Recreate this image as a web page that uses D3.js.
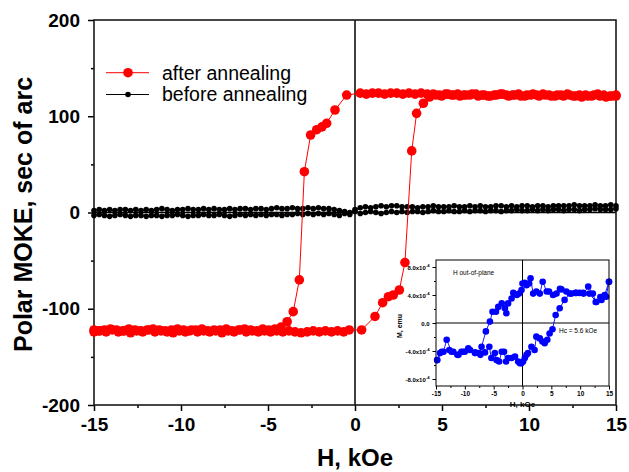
<!DOCTYPE html>
<html>
<head>
<meta charset="utf-8">
<script src="https://cdn.jsdelivr.net/npm/d3@7"></script>
<style>
  body { margin: 0; background: #fff; }
  svg { display: block; }
  text { font-family: Arial, "Liberation Sans", sans-serif; fill: #000; }
</style>
</head>
<body>
<svg id="chart" width="629" height="472"></svg>
<script>
// ---- Polar MOKE loops (sec of arc) vs applied field H (kOe) ----

// Field points of the "before annealing" sweeps
const fieldBefore = [
  -15.0,-14.7,-14.4,-14.1,-13.8,-13.5,-13.2,-12.9,-12.6,-12.3,
  -12.0,-11.7,-11.4,-11.1,-10.8,-10.5,-10.2,-9.9,-9.6,-9.3,
  -9.0,-8.7,-8.4,-8.1,-7.8,-7.5,-7.2,-6.9,-6.6,-6.3,
  -6.0,-5.7,-5.4,-5.1,-4.8,-4.5,-4.2,-3.9,-3.6,-3.3,
  -3.0,-2.7,-2.4,-2.1,-1.8,-1.5,-1.2,-0.9,-0.6,-0.3,
  0.0,0.3,0.6,0.9,1.2,1.5,1.8,2.1,2.4,2.7,
  3.0,3.3,3.6,3.9,4.2,4.5,4.8,5.1,5.4,5.7,
  6.0,6.3,6.6,6.9,7.2,7.5,7.8,8.1,8.4,8.7,
  9.0,9.3,9.6,9.9,10.2,10.5,10.8,11.1,11.4,11.7,
  12.0,12.3,12.6,12.9,13.2,13.5,13.8,14.1,14.4,14.7,
  15.0
];
// Decreasing-field sweep, before annealing
const beforeDown = [
  2,3,2,3,2,3,3,2,3,2,
  3,2,3,4,3,2,3,3,4,3,
  3,4,3,4,3,3,4,3,4,4,
  3,4,4,3,4,5,4,4,5,4,
  4,5,4,5,4,4,3,2,1,0,
  3,5,6,5,6,7,6,7,7,6,
  6,6,5,6,6,7,6,6,6,7,
  6,6,7,6,7,6,6,7,7,6,
  7,6,7,7,6,7,7,6,7,7,
  7,7,8,7,7,7,8,7,7,8,
  7
];
// Increasing-field sweep, before annealing
const beforeUp = [
  -3,-2,-3,-4,-3,-2,-3,-4,-3,-3,
  -4,-3,-3,-4,-3,-3,-2,-3,-4,-3,
  -3,-2,-3,-3,-2,-3,-4,-3,-2,-3,
  -2,-3,-2,-3,-2,-2,-3,-2,-2,-1,
  -2,-1,-2,-1,-2,-1,-2,-3,-1,-2,
  1,-1,0,1,0,-1,0,1,0,1,
  0,1,1,0,1,2,1,1,2,1,
  1,2,1,2,2,1,2,2,1,2,
  2,3,2,2,3,2,3,2,3,3,
  2,3,3,2,3,3,4,3,3,3,
  4
];

// After annealing: [H (kOe), rotation (sec of arc)], decreasing field
const afterDown = [
  [15.0,122],[14.65,121],[14.3,122],[13.95,123],[13.6,121],[13.25,122],[12.9,122],[12.55,121],
  [12.2,123],[11.85,122],[11.5,121],[11.15,122],[10.8,123],[10.45,122],[10.1,122],[9.75,121],
  [9.4,123],[9.05,122],[8.7,122],[8.35,123],[8.0,122],[7.65,121],[7.3,122],[6.95,123],
  [6.6,122],[6.25,122],[5.9,123],[5.55,122],[5.2,123],[4.85,122],[4.5,123],[4.15,123],
  [3.8,124],[3.45,123],[3.1,124],[2.75,123],[2.4,124],[2.05,124],[1.7,123],[1.35,124],
  [1.0,124],[0.65,123],[0.3,124],[-0.48,122],[-1.15,106.5],[-1.63,92.7],[-1.9,89],
  [-2.2,86],[-2.55,80.5],[-2.91,42.4],[-3.2,-70],[-3.55,-103],[-3.9,-113.5],[-4.25,-119],
  [-4.6,-121],[-4.95,-122],[-5.3,-121],[-5.65,-123],[-6.0,-122],[-6.35,-121],[-6.7,-122],
  [-7.05,-123],[-7.4,-121],[-7.75,-122],[-8.1,-122],[-8.45,-123],[-8.8,-121],[-9.15,-122],
  [-9.5,-123],[-9.85,-122],[-10.2,-121],[-10.55,-122],[-10.9,-123],[-11.25,-122],[-11.6,-121],
  [-11.95,-122],[-12.3,-123],[-12.65,-122],[-13.0,-121],[-13.35,-123],[-13.7,-122],
  [-14.05,-121],[-14.4,-122],[-14.75,-123],[-15.0,-122]
];
// After annealing, increasing field
const afterUp = [
  [-15.0,-124],[-14.65,-123],[-14.3,-124],[-13.95,-122],[-13.6,-124],[-13.25,-123],
  [-12.9,-125],[-12.55,-123],[-12.2,-124],[-11.85,-122],[-11.5,-124],[-11.15,-123],
  [-10.8,-124],[-10.45,-125],[-10.1,-123],[-9.75,-124],[-9.4,-122],[-9.05,-124],
  [-8.7,-123],[-8.35,-124],[-8.0,-123],[-7.65,-125],[-7.3,-123],[-6.95,-124],
  [-6.6,-122],[-6.25,-124],[-5.9,-123],[-5.55,-124],[-5.2,-123],[-4.85,-124],
  [-4.5,-123],[-4.15,-124],[-3.8,-123],[-3.45,-124],[-3.1,-125],[-2.75,-124],
  [-2.4,-123],[-2.05,-124],[-1.7,-123],[-1.35,-124],[-1.0,-123],[-0.65,-124],
  [-0.33,-122],[0.38,-122],[1.15,-108],[1.59,-93.7],[1.92,-87.5],[2.2,-85.7],
  [2.55,-80.5],[2.87,-52],[3.26,64],[3.54,103],[3.93,113.5],[4.28,120],[4.63,122],
  [4.98,121],[5.33,123],[5.68,122],[6.03,121],[6.38,122],[6.73,123],[7.08,121],
  [7.43,122],[7.78,121],[8.13,122],[8.48,123],[8.83,121],[9.18,122],[9.53,121],
  [9.88,122],[10.23,123],[10.58,121],[10.93,122],[11.28,121],[11.63,122],[11.98,121],
  [12.33,122],[12.68,121],[13.03,120],[13.38,121],[13.73,122],[14.08,121],[14.43,120],
  [14.78,121],[15.0,121]
];

// Inset: magnetic moment loop, H out-of-plane. [H (kOe), M (x1e-4 emu)]
const insetDown = [
  [15,5.9],[14.5,3.75],[13.5,3.7],[12.7,3.0],[12.2,4.2],[11.4,5.2],[10.6,4.2],[9.9,4.3],
  [9.2,4.3],[8.5,4.2],[7.6,4.5],[6.75,4.8],[6.5,4.9],[5.9,4.2],[5.3,4.0],[4.6,4.5],
  [4.2,4.5],[3.5,5.9],[3.0,4.2],[2.4,4.5],[1.85,4.2],[1.4,6.4],[1.15,5.65],[0.7,5.4],
  [0.4,5.75],[0.0,5.65],[-0.17,4.7],[-0.6,4.2],[-1.0,4.0],[-1.6,4.3],[-1.9,3.5],
  [-2.5,2.8],[-2.8,1.4],[-3.05,2.1],[-3.6,2.8],[-4.2,2.3],[-4.6,1.6],[-5.2,1.6],
  [-5.65,0.2],[-6.35,-1.2],[-7.1,-3.4],[-7.5,-4.3],[-8.25,-4.3],[-9.1,-3.85],[-10,-4.1],
  [-10.6,-4.1],[-11.3,-4.55],[-12.3,-4.1],[-13.15,-2.4],[-13.7,-4.1],[-14.3,-4.3],[-14.8,-5.3]
];
const insetUp = [
  [-14.8,-5.3],[-14,-4.1],[-12.7,-3.85],[-12.0,-4.1],[-11.1,-4.55],[-10.3,-4.1],[-9.4,-3.6],
  [-8.2,-4.2],[-7.3,-4.55],[-6.5,-4.2],[-5.75,-3.4],[-5.4,-5.0],[-4.8,-4.3],[-4.5,-5.3],
  [-4.05,-5.5],[-3.6,-4.1],[-3.2,-4.1],[-2.85,-5.5],[-2.5,-5.0],[-1.9,-5.0],[-1.3,-4.8],
  [-0.75,-5.5],[-0.45,-5.75],[-0.2,-5.75],[0.1,-5.5],[0.4,-5.0],[0.7,-4.55],[0.95,-4.3],
  [1.55,-3.4],[2.1,-3.85],[2.4,-1.95],[3.0,-2.2],[3.45,-2.65],[3.85,-2.9],[4.3,-2.4],
  [4.7,-1.5],[5.2,-0.9],[5.75,1.15],[6.45,2.1],[7.3,3.3],[8.2,4.2],[9.3,4.3],[10.5,4.3],
  [11.6,4.2],[12.8,3.0],[13.7,3.3],[14.25,4.0],[15,5.9]
];

// Axis ticks and labels
const xTicks = [-15, -10, -5, 0, 5, 10, 15];
const xMinorTicks = [-12.5, -7.5, -2.5, 2.5, 7.5, 12.5];
const yTicks = [-200, -100, 0, 100, 200];
const yMinorTicks = [-150, -50, 50, 150];
const insetXTicks = [-15, -10, -5, 0, 5, 10, 15];
const insetXMinor = [-12.5, -7.5, -2.5, 2.5, 7.5, 12.5];
const insetYTicks = [-8, -4, 0, 4, 8];
const insetYMinor = [-6, -2, 2, 6];
const seriesNames = ["after annealing", "before annealing"];
const xTitle = "H, kOe";
const yTitle = "Polar MOKE, sec of arc";
const insetNote = "H out-of-plane";
const insetCoercivity = "Hc = 5.6 kOe";
const insetYTitle = "M, emu";

const svg = d3.select("#chart");
// plain hyphen for negative numbers
const plain = d => String(d);

// ---- main panel ----
const x = d3.scaleLinear().domain([-15, 15]).range([94, 616]);
const y = d3.scaleLinear().domain([-200, 200]).range([405, 20]);

const styleAxis = (g, size, weight) => {
  g.select(".domain").remove();
  g.selectAll(".tick line").attr("stroke", "#000").attr("stroke-width", 1.5);
  g.selectAll(".tick text").attr("font-size", size).attr("font-weight", weight)
    .attr("font-family", "Arial, 'Liberation Sans', sans-serif").attr("fill", "#000");
};

svg.append("g").attr("transform", `translate(0,${y(-200)})`)
  .call(d3.axisBottom(x).tickValues(xMinorTicks).tickSize(3).tickFormat(""))
  .call(g => styleAxis(g, 0, "normal"));
svg.append("g").attr("transform", `translate(0,${y(-200)})`)
  .call(d3.axisBottom(x).tickValues(xTicks).tickSize(6).tickPadding(7).tickFormat(plain))
  .call(g => styleAxis(g, 19, "bold"));
svg.append("g").attr("transform", `translate(${x(-15)},0)`)
  .call(d3.axisLeft(y).tickValues(yMinorTicks).tickSize(3).tickFormat(""))
  .call(g => styleAxis(g, 0, "normal"));
svg.append("g").attr("transform", `translate(${x(-15)},0)`)
  .call(d3.axisLeft(y).tickValues(yTicks).tickSize(6).tickPadding(8).tickFormat(plain))
  .call(g => styleAxis(g, 19, "bold"));

// zero lines
svg.append("line").attr("x1", x(-15)).attr("x2", x(15)).attr("y1", y(0)).attr("y2", y(0))
  .attr("stroke", "#000").attr("stroke-width", 1.5);
svg.append("line").attr("x1", x(0)).attr("x2", x(0)).attr("y1", y(-200)).attr("y2", y(200))
  .attr("stroke", "#000").attr("stroke-width", 1.5);

// frame
svg.append("rect").attr("x", x(-15)).attr("y", y(200))
  .attr("width", x(15) - x(-15)).attr("height", y(-200) - y(200))
  .attr("fill", "none").attr("stroke", "#1a1a1a").attr("stroke-width", 1.6);

const lineGen = (sx, sy) => d3.line().x(d => sx(d[0])).y(d => sy(d[1]));

// before annealing (black)
const beforeSweeps = [
  fieldBefore.map((h, i) => [h, beforeDown[i]]).reverse(),
  fieldBefore.map((h, i) => [h, beforeUp[i]])
];
beforeSweeps.forEach(sweep => {
  svg.append("path").datum(sweep).attr("d", lineGen(x, y))
    .attr("fill", "none").attr("stroke", "#000").attr("stroke-width", 1);
  svg.append("g").selectAll("circle").data(sweep).join("circle")
    .attr("cx", d => x(d[0])).attr("cy", d => y(d[1])).attr("r", 2.8).attr("fill", "#000");
});

// after annealing (red)
[afterDown, afterUp].forEach(sweep => {
  svg.append("path").datum(sweep).attr("d", lineGen(x, y))
    .attr("fill", "none").attr("stroke", "#ff0000").attr("stroke-width", 1);
  svg.append("g").selectAll("circle").data(sweep).join("circle")
    .attr("cx", d => x(d[0])).attr("cy", d => y(d[1])).attr("r", 4.8).attr("fill", "#ff0000");
});

// axis titles
svg.append("text").attr("x", x(0)).attr("y", 466).attr("text-anchor", "middle")
  .attr("font-size", 24).attr("font-weight", "bold").text(xTitle);
svg.append("text").attr("transform", `translate(32,${(y(200) + y(-200)) / 2 + 2}) rotate(-90)`)
  .attr("text-anchor", "middle").attr("font-size", 25).attr("font-weight", "bold").text(yTitle);

// legend
const legend = svg.append("g");
const legendRows = [
  { name: seriesNames[0], color: "#ff0000", r: 4.8, cy: 72.7 },
  { name: seriesNames[1], color: "#000", r: 2.8, cy: 94.5 }
];
legendRows.forEach(row => {
  legend.append("line").attr("x1", 106).attr("x2", 149).attr("y1", row.cy).attr("y2", row.cy)
    .attr("stroke", row.color).attr("stroke-width", 1);
  legend.append("circle").attr("cx", 128).attr("cy", row.cy).attr("r", row.r).attr("fill", row.color);
  legend.append("text").attr("x", 162).attr("y", row.cy + 6.8)
    .attr("font-size", 19.5).text(row.name);
});

// ---- inset ----
const xi = d3.scaleLinear().domain([-15, 15]).range([436, 609]);
const yi = d3.scaleLinear().domain([-9, 9]).range([386, 260]);
const inset = svg.append("g");

inset.append("rect").attr("x", xi(-15)).attr("y", yi(9))
  .attr("width", xi(15) - xi(-15)).attr("height", yi(-9) - yi(9)).attr("fill", "#fff");

const insetAxisStyle = (g, size) => {
  g.select(".domain").remove();
  g.selectAll(".tick line").attr("stroke", "#000").attr("stroke-width", 1);
  g.selectAll(".tick text").attr("font-size", size).attr("font-weight", "bold")
    .attr("font-family", "Arial, 'Liberation Sans', sans-serif").attr("fill", "#000");
};
inset.append("g").attr("transform", `translate(0,${yi(-9)})`)
  .call(d3.axisBottom(xi).tickValues(insetXMinor).tickSize(2).tickFormat(""))
  .call(g => insetAxisStyle(g, 0));
inset.append("g").attr("transform", `translate(0,${yi(-9)})`)
  .call(d3.axisBottom(xi).tickValues(insetXTicks).tickSize(3.5).tickPadding(2).tickFormat(plain))
  .call(g => insetAxisStyle(g, 6.5));
inset.append("g").attr("transform", `translate(${xi(-15)},0)`)
  .call(d3.axisLeft(yi).tickValues(insetYMinor).tickSize(2).tickFormat(""))
  .call(g => insetAxisStyle(g, 0));
const yAxisInset = inset.append("g").attr("transform", `translate(${xi(-15)},0)`)
  .call(d3.axisLeft(yi).tickValues(insetYTicks).tickSize(3.5).tickPadding(3).tickFormat(""))
  .call(g => insetAxisStyle(g, 6));
// tick labels as mantissa x 10^-4
yAxisInset.selectAll(".tick").each(function (d) {
  const t = d3.select(this).select("text").attr("font-size", 6).attr("dy", "0.35em");
  if (d === 0) { t.text("0.0"); return; }
  t.text(null);
  t.append("tspan").text(d.toFixed(1) + "x10");
  t.append("tspan").attr("font-size", 4.2).attr("dy", -2.6).text("-4");
});

// inset zero lines
inset.append("line").attr("x1", xi(-15)).attr("x2", xi(15)).attr("y1", yi(0)).attr("y2", yi(0))
  .attr("stroke", "#000").attr("stroke-width", 1);
inset.append("line").attr("x1", xi(0)).attr("x2", xi(0)).attr("y1", yi(-9)).attr("y2", yi(9))
  .attr("stroke", "#000").attr("stroke-width", 1);

[insetDown, insetUp].forEach(sweep => {
  inset.append("path").datum(sweep).attr("d", lineGen(xi, yi))
    .attr("fill", "none").attr("stroke", "#0000ff").attr("stroke-width", 0.9);
  inset.append("g").selectAll("circle").data(sweep).join("circle")
    .attr("cx", d => xi(d[0])).attr("cy", d => yi(d[1])).attr("r", 3.3).attr("fill", "#0000ff");
});

inset.append("rect").attr("x", xi(-15)).attr("y", yi(9))
  .attr("width", xi(15) - xi(-15)).attr("height", yi(-9) - yi(9))
  .attr("fill", "none").attr("stroke", "#000").attr("stroke-width", 1);

inset.append("text").attr("x", 453).attr("y", 274.5).attr("font-size", 6.5).text(insetNote);
inset.append("text").attr("x", 559).attr("y", 332.5).attr("font-size", 6.5).text(insetCoercivity);
inset.append("text").attr("transform", `translate(401.5,${yi(0) + 3}) rotate(-90)`)
  .attr("text-anchor", "middle").attr("font-size", 7).attr("font-weight", "bold").text(insetYTitle);
inset.append("text").attr("x", (xi(-15) + xi(15)) / 2).attr("y", 406.5).attr("text-anchor", "middle")
  .attr("font-size", 8).attr("font-weight", "bold").text(xTitle);
</script>
</body>
</html>
